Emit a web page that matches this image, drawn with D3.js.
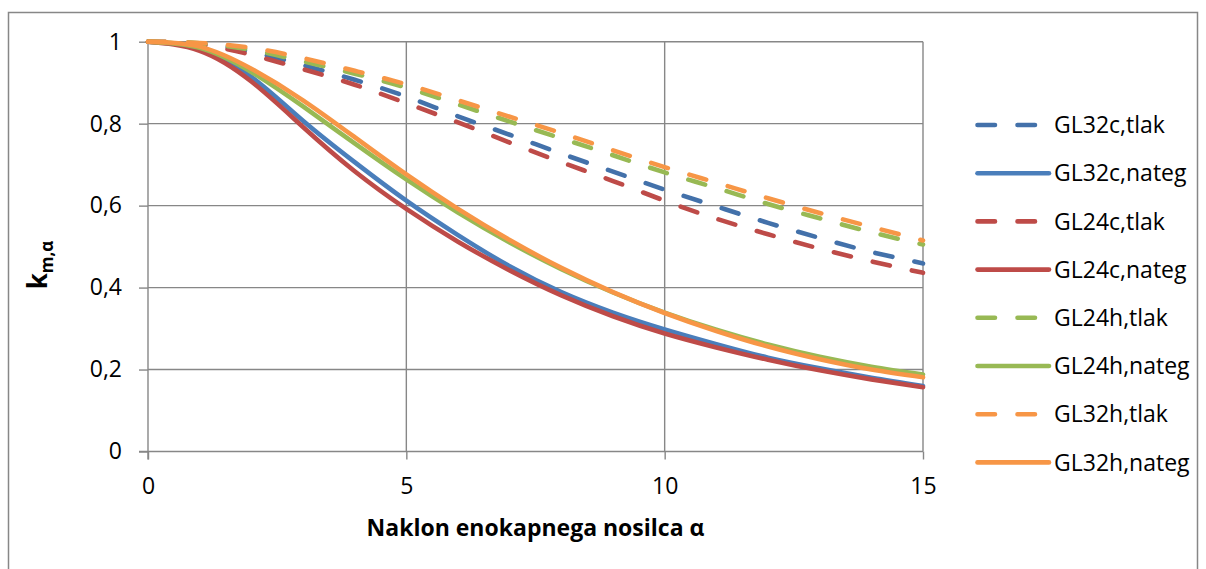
<!DOCTYPE html>
<html>
<head>
<meta charset="utf-8">
<script src="https://cdn.jsdelivr.net/npm/d3@7"></script>
<style>
  body { margin: 0; background: #fff; }
  svg { display: block; }
  text { font-family: "Open Sans", Lato, sans-serif; fill: #000; }
</style>
</head>
<body>
<svg id="chart" width="1206" height="569"></svg>
<script>
const alpha = [0,1,2,3,4,5,6,7,8,9,10,11,12,13,14,15];

const gl32cTlak  = [1,0.995,0.975,0.943,0.907,0.866,0.818,0.773,0.727,0.683,0.639,0.598,0.558,0.521,0.487,0.459];
const gl32cNateg = [1,0.982,0.914,0.807,0.706,0.612,0.528,0.452,0.389,0.339,0.298,0.262,0.229,0.203,0.180,0.160];
const gl24cTlak  = [1,0.993,0.968,0.933,0.895,0.850,0.803,0.754,0.706,0.660,0.612,0.568,0.530,0.495,0.464,0.436];
const gl24cNateg = [1,0.978,0.903,0.792,0.684,0.592,0.512,0.442,0.381,0.330,0.288,0.254,0.224,0.198,0.176,0.157];
const gl24hTlak  = [1,0.996,0.980,0.952,0.922,0.888,0.847,0.805,0.764,0.723,0.681,0.643,0.604,0.569,0.535,0.505];
const gl24hNateg = [1,0.985,0.926,0.842,0.752,0.664,0.583,0.510,0.445,0.388,0.339,0.297,0.261,0.231,0.207,0.188];
const gl32hTlak  = [1,0.997,0.985,0.960,0.929,0.896,0.857,0.817,0.777,0.735,0.694,0.656,0.618,0.582,0.548,0.515];
const gl32hNateg = [1,0.988,0.934,0.857,0.767,0.676,0.592,0.516,0.448,0.389,0.338,0.294,0.256,0.225,0.200,0.181];

const seriesNames = ["GL32c,tlak","GL32c,nateg","GL24c,tlak","GL24c,nateg","GL24h,tlak","GL24h,nateg","GL32h,tlak","GL32h,nateg"];
const seriesValues = [gl32cTlak, gl32cNateg, gl24cTlak, gl24cNateg, gl24hTlak, gl24hNateg, gl32hTlak, gl32hNateg];
const seriesColors = ["#4371AA","#4A7EBB","#BE4B48","#BE4B48","#98B954","#98B954","#F79646","#F79646"];
const seriesDashed = [true,false,true,false,true,false,true,false];

const xTicks = [0,5,10,15];
const yTicks = [0,0.2,0.4,0.6,0.8,1];
const xTitle = "Naklon enokapnega nosilca α";

const svg = d3.select("#chart");
const gridColor = "#878787";
const fontSize = "23px";

// outer frame
svg.append("rect").attr("x", 8.5).attr("y", 12.5).attr("width", 1189).attr("height", 570)
  .attr("fill", "none").attr("stroke", gridColor).attr("stroke-width", 1.5);

const x = d3.scaleLinear().domain([0,15]).range([148, 923]);
const y = d3.scaleLinear().domain([0,1]).range([451.5, 41.7]);

// horizontal grid
svg.append("g").selectAll("line").data(yTicks.filter(d => d > 0)).join("line")
  .attr("x1", x(0)).attr("x2", x(15)).attr("y1", d => y(d)).attr("y2", d => y(d))
  .attr("stroke", gridColor).attr("stroke-width", 1.4);
// vertical grid
svg.append("g").selectAll("line").data(xTicks.filter(d => d > 0)).join("line")
  .attr("y1", y(0)).attr("y2", y(1)).attr("x1", d => x(d)).attr("x2", d => x(d))
  .attr("stroke", gridColor).attr("stroke-width", 1.4);

const fmt = d => String(d).replace(".", ",");

const yAxis = svg.append("g").attr("transform", `translate(${x(0)},0)`)
  .call(d3.axisLeft(y).tickValues(yTicks).tickFormat(fmt).tickSize(9).tickPadding(17));
const xAxis = svg.append("g").attr("transform", `translate(0,${y(0)})`)
  .call(d3.axisBottom(x).tickValues(xTicks).tickFormat(fmt).tickSize(8).tickPadding(18));
[yAxis, xAxis].forEach(a => {
  a.selectAll(".domain").attr("stroke", gridColor).attr("stroke-width", 1.4);
  a.selectAll(".tick line").attr("stroke", gridColor).attr("stroke-width", 1.4);
  a.selectAll(".tick text").style("font-family", "'Open Sans', sans-serif").style("font-size", fontSize).attr("fill", "#000");
});
yAxis.select(".domain").attr("d", `M0,${y(0)+8}V${y(1)}`);
xAxis.select(".domain").attr("d", `M${x(0)-9},0H${x(15)}`);

// lines
const line = d3.line().x((d,i) => x(alpha[i])).y(d => y(d)).curve(d3.curveNatural);
seriesValues.forEach((vals, k) => {
  svg.append("path").datum(vals).attr("d", line)
    .attr("fill", "none").attr("stroke", seriesColors[k]).attr("stroke-width", 4.6)
    .attr("stroke-linecap", "round").attr("stroke-linejoin", "round")
    .attr("stroke-dasharray", seriesDashed[k] ? "17.5,22.5" : null);
});

// legend
const lg = svg.append("g");
seriesNames.forEach((name, k) => {
  const yy = 125 + k * 48.2;
  lg.append("line").attr("x1", 977.5).attr("x2", 1049).attr("y1", yy).attr("y2", yy)
    .attr("stroke", seriesColors[k]).attr("stroke-width", 4.6).attr("stroke-linecap", "round")
    .attr("stroke-dasharray", seriesDashed[k] ? "17.5,22.5" : null);
  lg.append("text").attr("x", 1054).attr("y", yy).attr("dy", "0.36em")
    .style("font-size", fontSize).text(name);
});

// axis titles
svg.append("text").attr("x", (x(0)+x(15))/2).attr("y", 536).attr("text-anchor", "middle")
  .style("font-size", fontSize).style("font-weight", "bold").text(xTitle);

const yt = svg.append("text").attr("transform", "translate(47,265) rotate(-90)")
  .attr("text-anchor", "middle").style("font-weight", "bold").style("font-size", "26px");
yt.append("tspan").text("k");
yt.append("tspan").attr("dy", 6).style("font-size", "17px").text("m,α");
</script>
</body>
</html>
